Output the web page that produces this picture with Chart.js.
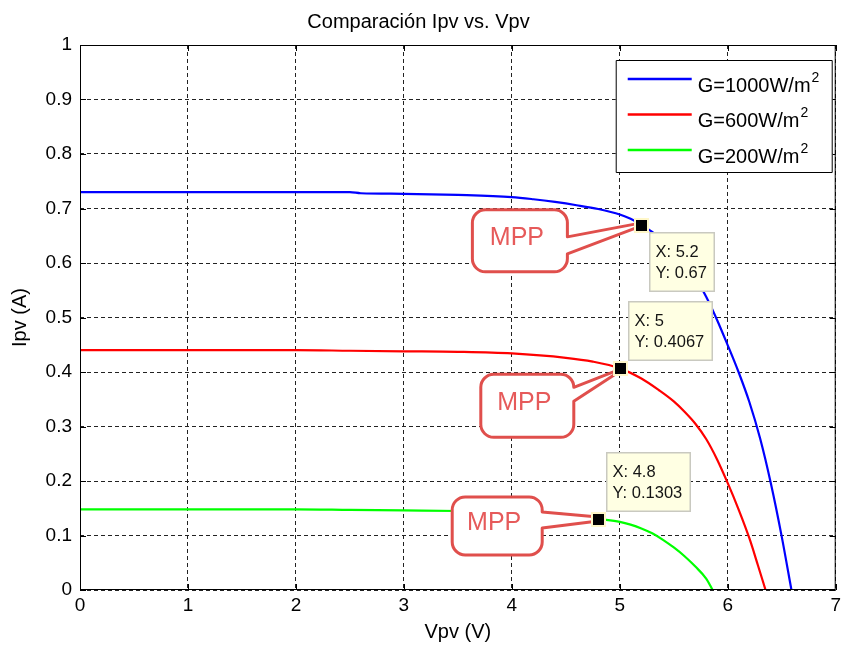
<!DOCTYPE html>
<html>
<head>
<meta charset="utf-8">
<script src="https://cdn.jsdelivr.net/npm/chart.js@4/dist/chart.umd.min.js"></script>
<style>
html,body{margin:0;padding:0;background:#fff;}
canvas{display:block;}
</style>
</head>
<body>
<canvas id="c" width="845" height="646"></canvas>
<script>
// ---- data ----
const chartTitle = 'Comparación Ipv vs. Vpv';
const xAxisTitle = 'Vpv (V)';
const yAxisTitle = 'Ipv (A)';
const seriesLabels = ['G=1000W/m²', 'G=600W/m²', 'G=200W/m²'];
const seriesColors = ['#0000FF', '#FF0000', '#00FF00'];

const vpv1000 = [0,0.5,1,1.5,2,2.5,2.6,3,3.5,4,4.2,4.4,4.6,4.8,5,5.1,5.2,5.3,5.4,5.5,5.6,5.7,5.8,5.9,6,6.1,6.2,6.3,6.4,6.5,6.59];
const ipv1000 = [0.730,0.730,0.730,0.730,0.730,0.730,0.728,0.727,0.725,0.721,0.717,0.712,0.706,0.699,0.689,0.681,0.670,0.657,0.643,0.625,0.603,0.574,0.538,0.496,0.449,0.400,0.345,0.278,0.195,0.098,0];

const vpv600 = [0,1,2,2.5,3,3.5,4,4.5,4.75,5,5.2,5.36,5.5,5.6,5.7,5.8,5.9,6,6.1,6.2,6.28,6.35];
const ipv600 = [0.440,0.440,0.440,0.439,0.438,0.437,0.434,0.426,0.419,0.4067,0.388,0.367,0.346,0.327,0.305,0.277,0.240,0.196,0.148,0.095,0.045,0];

const vpv200 = [0,1,2,2.5,3,3.5,4,4.5,4.8,5,5.1,5.2,5.3,5.4,5.5,5.6,5.7,5.8,5.86];
const ipv200 = [0.148,0.148,0.148,0.147,0.146,0.145,0.143,0.139,0.1303,0.125,0.120,0.113,0.104,0.092,0.078,0.062,0.043,0.021,0];

const mppV = [5.2, 5, 4.8];
const mppI = [0.67, 0.4067, 0.1303];
const mppLabel = 'MPP';

const xTickLabels = ['0','1','2','3','4','5','6','7'];
const yTickLabels = ['0','0.1','0.2','0.3','0.4','0.5','0.6','0.7','0.8','0.9','1'];

// ---- styles (pixel offsets relative to marker) ----
const FONT = "'Liberation Sans', Arial, sans-serif";
const tipStyle = [
  {dx: 8, dy: 7, above: false},
  {dx: 8, dy: -7, above: true},
  {dx: 8, dy: -7, above: true}
];
const bubbleStyle = [
  {dx: -169, dy: -15, w: 95, h: 62, b1: 12, b2: 29, t1: -2, t2: 1},
  {dx: -139, dy: 6,   w: 93, h: 63, b1: 19, b2: 33, t1: 1,  t2: 3},
  {dx: -146, dy: -22, w: 90, h: 58, b1: -7, b2: 9,  t1: -2, t2: 2}
];

const toPts = (v, i) => v.map((x, k) => ({x: x, y: i[k]}));
const seriesData = [toPts(vpv1000, ipv1000), toPts(vpv600, ipv600), toPts(vpv200, ipv200)];

function bubblePath(ctx, L, T, W, H, r, by1, by2, tx, ty1, ty2) {
  const R = L + W, B = T + H;
  ctx.beginPath();
  ctx.moveTo(L + r, T);
  ctx.lineTo(R - r, T);
  ctx.arcTo(R, T, R, T + r, r);
  ctx.lineTo(R, by1);
  ctx.lineTo(tx, ty1);
  ctx.lineTo(tx, ty2);
  ctx.lineTo(R, by2);
  ctx.lineTo(R, B - r);
  ctx.arcTo(R, B, R - r, B, r);
  ctx.lineTo(L + r, B);
  ctx.arcTo(L, B, L, B - r, r);
  ctx.lineTo(L, T + r);
  ctx.arcTo(L, T, L + r, T, r);
  ctx.closePath();
}

const overlay = {
  id: 'overlay',
  afterDatasetsDraw(chart) {
    const {ctx, chartArea: a, scales: {x, y}} = chart;
    ctx.save();
    ctx.setLineDash([]);
    // frame
    ctx.strokeStyle = '#000';
    ctx.lineWidth = 1;
    ctx.strokeRect(a.left + 0.5, a.top + 0.5, a.right - a.left - 1, a.bottom - a.top - 1);
    // inward ticks on all sides
    const tl = 6;
    ctx.beginPath();
    x.ticks.forEach(t => {
      const px = Math.round(x.getPixelForValue(t.value)) + 0.5;
      ctx.moveTo(px, a.bottom); ctx.lineTo(px, a.bottom - tl);
      ctx.moveTo(px, a.top); ctx.lineTo(px, a.top + tl);
    });
    y.ticks.forEach(t => {
      const py = Math.round(y.getPixelForValue(t.value)) + 0.5;
      ctx.moveTo(a.left, py); ctx.lineTo(a.left + tl, py);
      ctx.moveTo(a.right, py); ctx.lineTo(a.right - tl, py);
    });
    ctx.stroke();

    // datatips
    const tipFont = '16.5px ' + FONT;
    mppV.forEach((v, k) => {
      const mx = x.getPixelForValue(v), my = y.getPixelForValue(mppI[k]);
      const s = tipStyle[k];
      const l1 = 'X: ' + v, l2 = 'Y: ' + mppI[k];
      ctx.font = tipFont;
      const w = Math.round(Math.max(ctx.measureText(l1).width, ctx.measureText(l2).width) + 15);
      const h = 60;
      const L = Math.round(mx + s.dx);
      const T = Math.round(s.above ? my + s.dy - h : my + s.dy);
      ctx.fillStyle = '#FFFFE3';
      ctx.fillRect(L, T, w, h);
      ctx.strokeStyle = '#C9C9C0';
      ctx.lineWidth = 1.5;
      ctx.strokeRect(L + 0.75, T + 0.75, w - 1.5, h - 1.5);
      ctx.fillStyle = '#141414';
      ctx.textAlign = 'left';
      ctx.textBaseline = 'middle';
      ctx.fillText(l1, L + 6.5, T + 20);
      ctx.fillText(l2, L + 6.5, T + 41);
    });

    // MPP bubbles
    mppV.forEach((v, k) => {
      const mx = x.getPixelForValue(v), my = y.getPixelForValue(mppI[k]);
      const b = bubbleStyle[k];
      const L = mx + b.dx, T = my + b.dy;
      bubblePath(ctx, L, T, b.w, b.h, 13, my + b.b1, my + b.b2, mx, my + b.t1, my + b.t2);
      ctx.fillStyle = '#FFFFFF';
      ctx.fill();
      ctx.lineJoin = 'round';
      ctx.strokeStyle = '#E04F4C';
      ctx.lineWidth = 3;
      ctx.stroke();
      ctx.fillStyle = '#E65A5A';
      ctx.font = '25px ' + FONT;
      ctx.textAlign = 'center';
      ctx.textBaseline = 'middle';
      ctx.fillText(mppLabel, L + b.w / 2 - 3, T + b.h / 2 - 3);
    });

    // markers
    mppV.forEach((v, k) => {
      const mx = Math.round(x.getPixelForValue(v)), my = Math.round(y.getPixelForValue(mppI[k]));
      ctx.fillStyle = '#FFF7C8';
      ctx.fillRect(mx - 7, my - 7, 15, 15);
      ctx.fillStyle = '#000';
      ctx.fillRect(mx - 5, my - 5, 11, 11);
    });

    // legend
    const LW = 217, LH = 113;
    const LL = a.right - 3 - LW, LT = a.top + 15;
    ctx.fillStyle = '#fff';
    ctx.fillRect(LL, LT, LW, LH);
    ctx.strokeStyle = '#000';
    ctx.lineWidth = 1;
    ctx.strokeRect(LL + 0.5, LT + 0.5, LW - 1, LH - 1);
    chart.data.datasets.forEach((ds, k) => {
      const ry = LT + 19 + 35.5 * k;
      ctx.strokeStyle = ds.borderColor;
      ctx.lineWidth = 2.6;
      ctx.beginPath();
      ctx.moveTo(LL + 12, ry); ctx.lineTo(LL + 76, ry);
      ctx.stroke();
      const txt = ds.label;
      const main = txt.replace('²', '');
      ctx.fillStyle = '#000';
      ctx.textAlign = 'left';
      ctx.textBaseline = 'alphabetic';
      ctx.font = '20px ' + FONT;
      ctx.fillText(main, LL + 82, ry + 12.5);
      const mw = ctx.measureText(main).width;
      if (txt.indexOf('²') >= 0) {
        ctx.font = '14px ' + FONT;
        ctx.fillText('2', LL + 82 + mw + 1, ry + 2.5);
      }
    });
    ctx.restore();
  }
};

new Chart(document.getElementById('c'), {
  type: 'scatter',
  data: {
    datasets: seriesData.map((d, k) => ({
      label: seriesLabels[k],
      data: d,
      showLine: true,
      borderColor: seriesColors[k],
      backgroundColor: seriesColors[k],
      borderWidth: 2.2,
      pointRadius: 0,
      pointHoverRadius: 0,
      cubicInterpolationMode: 'monotone',
      fill: false
    }))
  },
  options: {
    responsive: false,
    devicePixelRatio: 1,
    animation: false,
    layout: {padding: {top: 0, left: 0, right: 8, bottom: 2}},
    plugins: {
      legend: {display: false},
      tooltip: {enabled: false},
      title: {
        display: true,
        text: chartTitle,
        color: '#000',
        font: {family: FONT, size: 20, weight: 'normal'},
        padding: {top: 10, bottom: 11}
      }
    },
    scales: {
      x: {
        type: 'linear',
        min: 0, max: 7,
        afterFit(s) { s.height = 54; },
        ticks: {
          stepSize: 1,
          color: '#000',
          font: {family: FONT, size: 19},
          padding: 4,
          maxRotation: 0,
          callback: (v, i) => xTickLabels[i]
        },
        grid: {color: '#222', lineWidth: 1, drawTicks: false},
        border: {display: false, dash: [4, 3]},
        title: {
          display: true, text: xAxisTitle, color: '#000',
          font: {family: FONT, size: 20}, padding: {top: 0, bottom: 0}
        }
      },
      y: {
        type: 'linear',
        min: 0, max: 1,
        afterFit(s) { s.width = 80; },
        ticks: {
          stepSize: 0.1,
          color: '#000',
          font: {family: FONT, size: 19},
          padding: 8,
          callback: (v, i) => yTickLabels[i]
        },
        grid: {color: '#222', lineWidth: 1, drawTicks: false},
        border: {display: false, dash: [4, 3]},
        title: {
          display: true, text: yAxisTitle, color: '#000',
          font: {family: FONT, size: 20}, padding: {top: 8, bottom: 0}
        }
      }
    }
  },
  plugins: [overlay]
});
</script>
</body>
</html>
